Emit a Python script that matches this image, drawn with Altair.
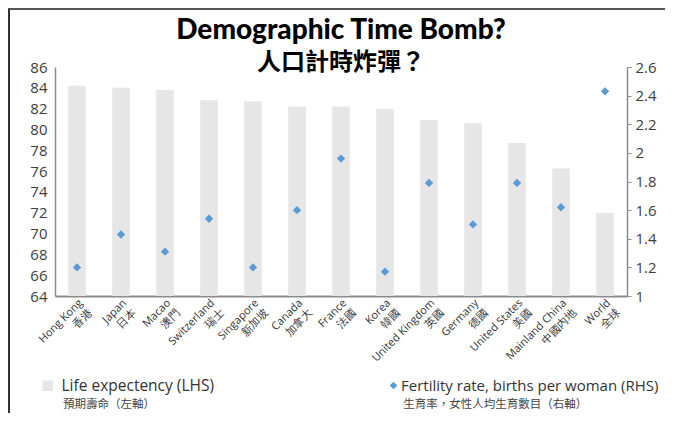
import altair as alt
import pandas as pd

cats_en = ["Hong Kong", "Japan", "Macao", "Switzerland", "Singapore", "Canada", "France",
           "Korea", "United Kingdom", "Germany", "United States", "Mainland China", "World"]
cats_zh = ["香港", "日本", "澳門", "瑞士", "新加坡", "加拿大", "法國",
           "韓國", "英國", "德國", "美國", "中國內地", "全球"]
life_expectancy = [84.2, 84.0, 83.8, 82.8, 82.7, 82.2, 82.2, 82.0, 80.9, 80.6, 78.7, 76.25, 72.0]
fertility = [1.20, 1.43, 1.31, 1.54, 1.20, 1.60, 1.96, 1.17, 1.79, 1.50, 1.79, 1.62, 2.43]
left_ticks = list(range(64, 87, 2))
right_ticks = [1, 1.2, 1.4, 1.6, 1.8, 2, 2.2, 2.4, 2.6]

s1 = "Life expectency (LHS)"
s1_zh = "預期壽命（左軸）"
s2 = "Fertility rate, births per woman (RHS)"
s2_zh = "生育率，女性人均生育數目（右軸）"

df = pd.DataFrame({
    "cat": [e + "|" + z for e, z in zip(cats_en, cats_zh)],
    "life": life_expectancy,
    "fert": fertility,
    "s1": s1,
    "s2": s2,
})

FONT = "Open Sans"
CJK = "Noto Sans CJK TC"
order = list(df["cat"])

x = alt.X("cat:N", sort=order, title=None,
          scale=alt.Scale(paddingInner=0.6, paddingOuter=0.3),
          axis=alt.Axis(labelAngle=-45, labelAlign="right", labelBaseline="middle",
                        labelExpr="[split(datum.label,'|')[0] + '\u3000', split(datum.label,'|')[1]]",
                        labelFont=FONT, labelFontSize=11, labelColor="#333333",
                        labelLineHeight=14, labelPadding=5, labelOffset=4,
                        ticks=False, domainColor="#8c8c8c", domainWidth=2))

bars = alt.Chart(df).mark_bar(clip=True).encode(
    x=x,
    y=alt.Y("life:Q", title=None,
            scale=alt.Scale(domain=[64, 86], nice=False, zero=False),
            axis=alt.Axis(values=left_ticks, ticks=False, grid=False, labelPadding=8,
                          labelFont=FONT, labelFontSize=15, labelColor="#404040",
                          domainColor="#8c8c8c", domainWidth=1.5)),
    color=alt.Color("s1:N", scale=alt.Scale(domain=[s1], range=["#e6e6e6"]),
                    legend=alt.Legend(orient="none", legendX=-15, legendY=311,
                                      title="\u200b\u3000\u3000" + s1_zh,
                                      titleOrient="bottom", titleFont=CJK, titleFontSize=11.5,
                                      titleFontWeight="normal", titleColor="#444444",
                                      titlePadding=5, titleLimit=400,
                                      symbolType="square", symbolSize=110, symbolStrokeWidth=0,
                                      labelFont=FONT, labelFontSize=15.5, labelColor="#333333",
                                      labelOffset=6, labelLimit=400)),
)

points = alt.Chart(df).mark_point(shape="diamond", filled=True, color="#5b9bd5", size=70, opacity=1).encode(
    x=x,
    y=alt.Y("fert:Q", title=None,
            scale=alt.Scale(domain=[1, 2.6], nice=False, zero=False),
            axis=alt.Axis(orient="right", values=right_ticks, format=".1~f", grid=False,
                          tickSize=4, tickColor="#8c8c8c", labelPadding=4,
                          labelFont=FONT, labelFontSize=15, labelColor="#404040",
                          domainColor="#8c8c8c", domainWidth=1.5)),
    shape=alt.Shape("s2:N", scale=alt.Scale(domain=[s2], range=["diamond"]),
                    legend=alt.Legend(orient="none", legendX=331, legendY=311,
                                      title="\u200b\u3000\u2002" + s2_zh,
                                      titleOrient="bottom", titleFont=CJK, titleFontSize=11.5,
                                      titleFontWeight="normal", titleColor="#444444",
                                      titlePadding=5, titleLimit=400,
                                      symbolSize=60, symbolFillColor="#5b9bd5", symbolStrokeWidth=0,
                                      labelFont=FONT, labelFontSize=15, labelColor="#333333",
                                      labelOffset=0, labelLimit=400)),
)

frame_top = alt.Chart(df).mark_rule(color="#555555", strokeWidth=2).encode(
    x=alt.value(-47), x2=alt.value(610), y=alt.value(-58))
frame_left = alt.Chart(df).mark_rule(color="#333333", strokeWidth=2).encode(
    x=alt.value(-46), y=alt.value(-58), y2=alt.value(360))

chart = alt.layer(bars, points, frame_top, frame_left).resolve_scale(
    y="independent", color="independent", shape="independent"
).properties(
    width=572, height=229,
    autosize=alt.AutoSizeParams(type="none"),
    padding={"left": 47, "top": 59, "right": 38, "bottom": 117},
    title=alt.TitleParams(
        text="Demographic Time Bomb?",
        subtitle="人口計時炸彈？",
        anchor="middle",
        font="Lato, Roboto, sans-serif",
        fontSize=28, fontWeight=900, color="#000000",
        subtitleFont=CJK, subtitleFontSize=24, subtitleFontWeight="bold",
        subtitleColor="#000000", subtitlePadding=6, offset=-67,
    ),
).configure_view(stroke=None)

chart.save("out.html", embed_options={"renderer": "svg", "actions": False})
